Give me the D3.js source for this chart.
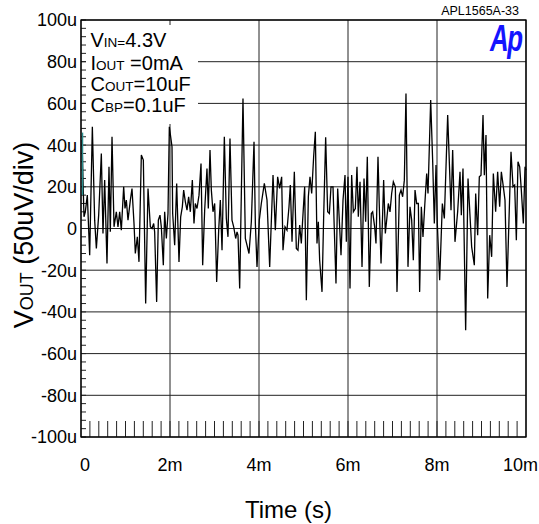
<!DOCTYPE html>
<html>
<head>
<meta charset="utf-8">
<script src="https://cdn.jsdelivr.net/npm/d3@7"></script>
<style>
  html, body { margin: 0; padding: 0; background: #fff; }
  svg { display: block; font-family: "Liberation Sans", Arial, sans-serif; }
</style>
</head>
<body>
<svg id="chart" width="539" height="524"></svg>
<script>
// ---- data (time in ms, voltage in µV) ----
const timeMs = [
  0.022,0.067,0.097,0.142,0.195,0.255,0.307,0.345,0.397,0.457,0.494,0.532,0.584,0.629,0.659,0.697,0.742,0.794,0.831,0.869,
  0.906,0.959,0.989,1.019,1.056,1.109,1.146,1.191,1.221,1.266,1.303,1.356,1.401,1.453,1.506,1.558,1.596,1.633,1.655,1.700,
  1.738,1.775,1.805,1.850,1.880,1.918,1.955,1.985,2.045,2.060,2.105,2.150,2.202,2.240,2.277,2.307,2.345,2.382,2.419,2.457,
  2.502,2.539,2.569,2.607,2.652,2.697,2.734,2.779,2.831,2.861,2.899,2.929,2.966,3.004,3.049,3.094,3.131,3.169,3.221,3.266,
  3.303,3.348,3.393,3.431,3.476,3.506,3.528,3.566,3.640,3.693,3.730,3.775,3.828,3.888,3.918,3.955,4.007,4.052,4.120,4.180,
  4.240,4.315,4.367,4.419,4.464,4.509,4.539,4.584,4.629,4.674,4.704,4.742,4.794,4.839,4.876,4.914,4.951,4.981,5.026,5.064,
  5.109,5.146,5.184,5.228,5.266,5.303,5.333,5.363,5.416,5.453,5.498,5.543,5.581,5.618,5.663,5.693,5.730,5.768,5.805,5.843,
  5.888,5.933,5.963,6.000,6.045,6.082,6.120,6.165,6.202,6.232,6.270,6.315,6.360,6.397,6.434,6.479,6.524,6.554,6.599,6.629,
  6.674,6.704,6.742,6.779,6.801,6.839,6.876,6.906,6.944,6.981,7.019,7.064,7.101,7.154,7.191,7.228,7.266,7.303,7.348,7.393,
  7.431,7.468,7.506,7.543,7.581,7.610,7.648,7.685,7.723,7.768,7.798,7.858,7.903,7.940,7.978,8.007,8.060,8.120,8.165,8.240,
  8.315,8.352,8.404,8.464,8.517,8.547,8.584,8.644,8.697,8.779,8.839,8.869,8.914,8.951,8.989,9.034,9.064,9.101,9.139,9.184,
  9.228,9.266,9.318,9.363,9.408,9.446,9.491,9.528,9.573,9.663,9.708,9.745,9.783,9.820,9.858,9.895,9.940,9.978,10.000
];
const voutUv = [
  42.4,5.6,8.0,16.0,-12.8,48.8,4.0,-9.6,6.4,36.0,-2.4,23.2,-16.8,29.6,-1.6,44.0,0.8,8.0,0.8,8.0,
  -0.8,20.0,9.6,13.6,4.0,13.6,19.2,2.4,-12.0,-4.0,-16.0,35.2,32.8,-36.0,19.2,0.8,0.0,2.4,-1.6,-35.2,
  4.0,6.4,0.8,-17.6,8.0,-4.8,7.2,48.8,39.2,7.2,-8.0,21.6,-16.0,5.6,10.4,18.4,12.8,8.8,15.2,8.0,
  23.2,2.4,12.0,9.6,16.0,31.2,-17.6,8.8,28.8,9.6,37.6,18.4,8.0,12.0,-25.6,-0.8,13.6,-10.4,44.0,4.8,
  -4.0,43.2,4.0,0.8,-4.8,-1.6,-3.2,-28.8,62.4,-4.8,-8.0,-12.0,3.2,41.6,2.4,-18.4,4.0,12.0,21.6,13.6,
  -18.4,25.6,-0.8,24.8,19.2,24.8,-10.4,0.8,-0.8,10.4,20.8,-6.4,27.2,-9.6,-10.4,1.6,-7.2,4.0,20.0,-34.4,
  15.2,24.8,16.8,34.4,46.4,-7.2,3.2,-15.2,-30.4,5.6,43.7,8.0,7.2,20.0,20.0,-0.8,-26.4,19.2,4.0,-12.8,
  13.6,25.6,-6.4,24.8,-28.8,25.6,8.0,9.6,29.6,5.6,22.4,-18.4,24.0,3.2,34.4,-28.0,7.2,8.0,0.8,-7.2,
  34.4,10.4,-16.8,7.2,23.2,-2.4,5.6,12.0,8.0,16.8,22.4,20.0,-30.4,16.0,18.4,15.2,23.2,64.8,-18.4,10.4,
  4.0,-15.2,18.4,12.0,12.0,-30.4,10.4,-4.0,10.4,26.4,16.8,61.6,32.0,2.4,30.4,2.4,-24.8,12.0,4.8,54.4,
  8.8,37.6,-6.4,8.0,27.2,6.4,28.8,-48.8,24.0,-8.8,-17.6,16.8,-3.2,24.8,25.6,54.4,25.6,44.8,-33.6,-3.2,
  -13.6,26.4,8.0,27.2,10.4,27.2,20.0,13.6,-28.0,36.8,20.0,20.8,-5.6,32.0,29.6,18.4,2.4,29.6,28.0
];
const xTickValues = [0, 2, 4, 6, 8, 10];
const xTickLabels = ["0", "2m", "4m", "6m", "8m", "10m"];
const yTickValues = [-100, -80, -60, -40, -20, 0, 20, 40, 60, 80, 100];
const yTickLabels = ["-100u", "-80u", "-60u", "-40u", "-20u", "0", "20u", "40u", "60u", "80u", "100u"];
const legendLines = [
  [["V", false], ["IN=", true], ["4.3V", false]],
  [["I", false], ["OUT", true], [" =0mA", false]],
  [["C", false], ["OUT", true], ["=10uF", false]],
  [["C", false], ["BP", true], ["=0.1uF", false]]
];
const partNumber = "APL1565A-33";
const markerRangeUv = [16, 46]; // teal cursor marker at t = 0

// ---- layout ----
const W = 539, H = 524;
const margin = { left: 81, top: 20, right: 13, bottom: 87 };
const svg = d3.select("#chart");
const x = d3.scaleLinear().domain([0, 10]).range([margin.left, W - margin.right]);
const y = d3.scaleLinear().domain([-100, 100]).range([H - margin.bottom, margin.top]);
const x0 = x.range()[0], x1 = x.range()[1], y0 = y.range()[0], y1 = y.range()[1];

// grid
const grid = svg.append("g");
grid.selectAll("line.h").data(yTickValues).join("line")
  .attr("x1", x0).attr("x2", x1)
  .attr("y1", d => y(d)).attr("y2", d => y(d))
  .attr("stroke", "#222").attr("stroke-width", 1);
grid.selectAll("line.v").data(xTickValues).join("line")
  .attr("y1", y0).attr("y2", y1)
  .attr("x1", d => x(d)).attr("x2", d => x(d))
  .attr("stroke", "#222").attr("stroke-width", 1);

// bottom minor ticks every 0.2 ms
const xMinor = d3.range(1, 50).map(i => i * 0.2);
svg.append("g").selectAll("line").data(xMinor).join("line")
  .attr("x1", d => x(d)).attr("x2", d => x(d))
  .attr("y1", y0).attr("y2", y0 - 16)
  .attr("stroke", "#222").attr("stroke-width", 1);

// left minor ticks every 4 µV
const yMinor = d3.range(-25, 26).map(i => i * 4);
svg.append("g").selectAll("line").data(yMinor).join("line")
  .attr("x1", x0).attr("x2", x0 + 5)
  .attr("y1", d => y(d)).attr("y2", d => y(d))
  .attr("stroke", "#222").attr("stroke-width", 1);

// trace
const pts = timeMs.map((t, i) => [t, voutUv[i]]);
const line = d3.line().x(d => x(d[0])).y(d => y(d[1]));
svg.append("path").datum(pts)
  .attr("d", line)
  .attr("fill", "none").attr("stroke", "#000").attr("stroke-width", 1.3)
  .attr("stroke-linejoin", "miter");

// teal cursor marker
svg.append("line")
  .attr("x1", x(0) + 1.5).attr("x2", x(0) + 1.5)
  .attr("y1", y(markerRangeUv[0])).attr("y2", y(markerRangeUv[1]))
  .attr("stroke", "#2a8c8c").attr("stroke-width", 1.5);

// legend box (white) + text
svg.append("rect")
  .attr("x", x0 + 5).attr("y", y1 + 5)
  .attr("width", 112).attr("height", 99)
  .attr("fill", "#fff");
const legendBaselines = [47, 70, 90.5, 111.5];
legendLines.forEach((parts, i) => {
  const t = svg.append("text").attr("x", 90.5).attr("y", legendBaselines[i])
    .attr("font-size", 20).attr("fill", "#000");
  parts.forEach(([s, small]) => {
    t.append("tspan").attr("font-size", small ? 13.5 : 20).text(s);
  });
});

// frame
svg.append("rect")
  .attr("x", x0).attr("y", y1).attr("width", x1 - x0).attr("height", y0 - y1)
  .attr("fill", "none").attr("stroke", "#000").attr("stroke-width", 1.3);

// y tick labels
svg.append("g").selectAll("text").data(yTickValues).join("text")
  .attr("x", x0 - 4).attr("y", d => y(d)).attr("dy", "0.36em")
  .attr("text-anchor", "end").attr("font-size", 18).attr("fill", "#000")
  .text((d, i) => yTickLabels[i]);

// x tick labels (first shifted right, last kept inside the page)
const nX = xTickValues.length;
svg.append("g").selectAll("text").data(xTickValues).join("text")
  .attr("x", (d, i) => i === 0 ? x(d) + 4 : (i === nX - 1 ? W - 1 : x(d)))
  .attr("y", y0 + 34)
  .attr("text-anchor", (d, i) => i === nX - 1 ? "end" : "middle")
  .attr("font-size", 18).attr("fill", "#000")
  .text((d, i) => xTickLabels[i]);

// axis titles
svg.append("text").attr("x", (x0 + x1) / 2 - 15).attr("y", 518)
  .attr("text-anchor", "middle").attr("font-size", 24).attr("fill", "#000")
  .text("Time (s)");
const yt = svg.append("text")
  .attr("transform", "translate(33,235) rotate(-90)")
  .attr("text-anchor", "middle").attr("font-size", 27).attr("fill", "#000");
yt.append("tspan").text("V");
yt.append("tspan").attr("font-size", 18).text("OUT");
yt.append("tspan").text(" (50uV/div)");

// part number and logo
svg.append("text").attr("x", 519).attr("y", 15)
  .attr("text-anchor", "end").attr("font-size", 12.5).attr("fill", "#000")
  .text(partNumber);
svg.append("text")
  .attr("transform", "translate(490,51) scale(0.7,1)")
  .attr("font-size", 37).attr("font-weight", "bold").attr("font-style", "italic")
  .attr("letter-spacing", -2)
  .attr("fill", "#1414ff").text("Ap");
</script>
</body>
</html>
